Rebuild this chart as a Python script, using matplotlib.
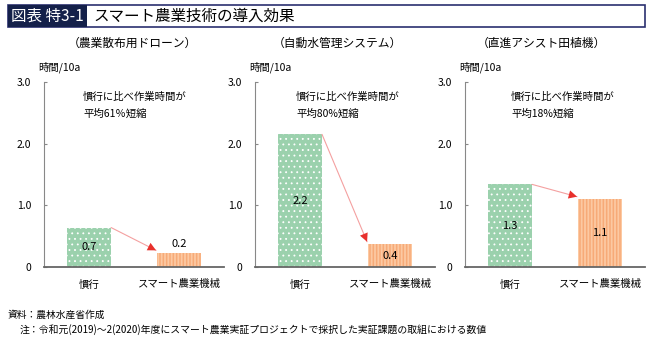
import matplotlib
matplotlib.use('Agg')
import matplotlib.pyplot as plt
from matplotlib.patches import Rectangle

plt.rcParams['font.family'] = ['Noto Sans CJK JP', 'DejaVu Sans']

W, H = 663, 349

titles = ['（農業散布用ドローン）', '（自動水管理システム）', '（直進アシスト田植機）']
categories = ['慣行', 'スマート農業機械']
hours_conv = [0.64, 2.15, 1.34]
hours_smart = [0.23, 0.37, 1.10]
labels_conv = ['0.7', '2.2', '1.3']
labels_smart = ['0.2', '0.4', '1.1']
notes = ['平均61％短縮', '平均80%短縮', '平均18%短縮']
yticks = [0, 1.0, 2.0, 3.0]
yticklabels = ['0', '1.0', '2.0', '3.0']

green = '#9bd1ad'
orange = '#f7aa77'

fig = plt.figure(figsize=(W / 100, H / 100), dpi=100)


def px(x, y):
    return x / W, 1 - y / H


# title bar
x0, y0 = px(8, 27)
fig.patches.append(Rectangle((x0, y0), (645 - 8) / W, 22 / H, transform=fig.transFigure,
                             facecolor='white', edgecolor='#2b3070', lw=1.2))
fig.patches.append(Rectangle((x0, y0), (87 - 8) / W, 22 / H, transform=fig.transFigure,
                             facecolor='#14204a', edgecolor='none'))
fig.text(*px(11, 16), '図表 特3-1', color='white', fontsize=11.2, va='center')
fig.text(*px(93, 16), 'スマート農業技術の導入効果', color='black', fontsize=11.2, va='center')

lefts = [44, 255, 465]
sub_x = [132, 337, 541]
note_x = [0.217, 0.228, 0.256]

for i in range(3):
    ax = fig.add_axes([lefts[i] / W, 82 / H, 180 / W, 185 / H])
    b1 = ax.bar(0, hours_conv[i], width=0.49, color=green, edgecolor='white',
                linewidth=0, hatch='...')[0]
    b2 = ax.bar(1, hours_smart[i], width=0.49, color=orange, edgecolor='#fcc9a2',
                linewidth=0, hatch='|||||')[0]
    if hasattr(b1, 'set_hatch_linewidth'):
        b1.set_hatch_linewidth(0.6)
        b2.set_hatch_linewidth(1.3)
    ax.set_xlim(-0.5, 1.5)
    ax.set_ylim(0, 3.0)
    ax.set_yticks(yticks)
    ax.set_yticklabels(yticklabels)
    ax.set_xticks([0, 1])
    ax.set_xticklabels(categories)
    ax.tick_params(axis='y', direction='in', length=2, pad=9, labelsize=7.5, color='#888888')
    ax.tick_params(axis='x', length=0, pad=9, labelsize=7.5)
    for s in ['top', 'right']:
        ax.spines[s].set_visible(False)
    ax.spines['left'].set_color('#888888')
    ax.spines['bottom'].set_color('#666666')
    ax.spines['bottom'].set_linewidth(1.3)

    ax.text(-0.03, 1.08, '時間/10a', transform=ax.transAxes, fontsize=7.5, va='center')

    # value labels
    ax.text(0, hours_conv[i] / 2, labels_conv[i], ha='center', va='center', fontsize=8)
    if hours_smart[i] < 0.3:
        ax.text(1, hours_smart[i] + 0.14, labels_smart[i], ha='center', va='center', fontsize=8)
    else:
        ax.text(1, hours_smart[i] / 2, labels_smart[i], ha='center', va='center', fontsize=8)

    # arrow: pale line, red head
    xs, ys = 0.245, hours_conv[i]
    xe, ye = 0.745, hours_smart[i] + 0.04
    ax.annotate('', xy=(xe, ye), xytext=(xs, ys),
                arrowprops=dict(arrowstyle='-', color='#f4a0a0', lw=0.8, shrinkA=0, shrinkB=0))
    xm = xs + (xe - xs) * 0.85
    ym = ys + (ye - ys) * 0.85
    ax.annotate('', xy=(xe, ye), xytext=(xm, ym),
                arrowprops=dict(arrowstyle='-|>,head_length=0.6,head_width=0.3',
                                color='#e8302c', lw=0, shrinkA=0, shrinkB=0))

    ax.text(note_x[i], 2.76, '慣行に比べ作業時間が', transform=ax.get_yaxis_transform(),
            fontsize=7.5, va='center')
    ax.text(note_x[i], 2.49, notes[i], transform=ax.get_yaxis_transform(),
            fontsize=7.5, va='center')

    fig.text(*px(sub_x[i], 43), titles[i], ha='center', va='center', fontsize=8.5)

fig.text(*px(8, 315), '資料：農林水産省作成', fontsize=7, va='center')
fig.text(*px(20, 330), '注：令和元(2019)～2(2020)年度にスマート農業実証プロジェクトで採択した実証課題の取組における数値',
         fontsize=7.1, va='center')

plt.savefig('out.png', dpi=100)
